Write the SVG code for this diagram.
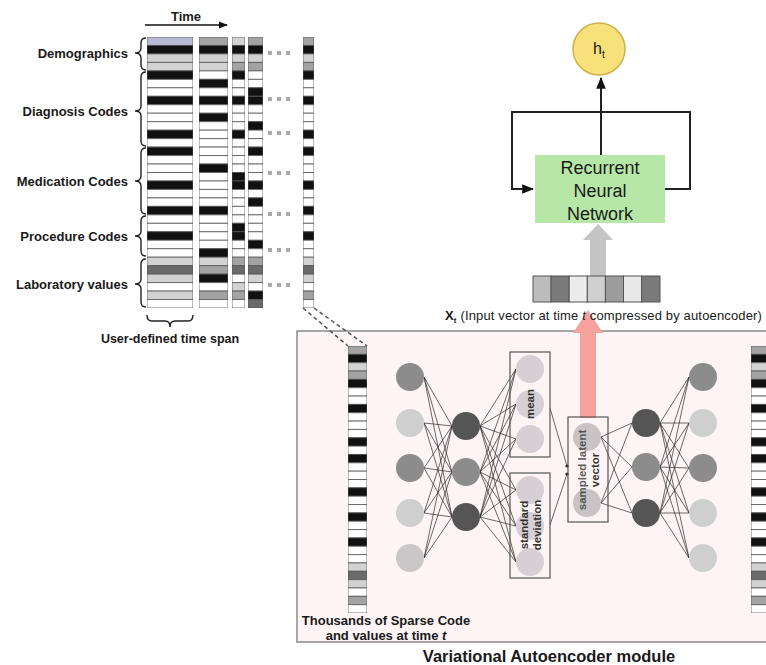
<svg xmlns="http://www.w3.org/2000/svg" xmlns:xlink="http://www.w3.org/1999/xlink" width="766" height="665" viewBox="0 0 766 665">
<style>
text{font-family:"Liberation Sans",Arial,sans-serif;fill:#1a1a1a}
.b{font-weight:bold}
.lab{font-size:13px;font-weight:bold;text-anchor:end}
.k{fill:#111}.w{fill:#fff}.l{fill:#d2d2d2}.m{fill:#a3a3a3}.d{fill:#6a6a6a}.p{fill:#b9b9d6}
symbol rect{stroke:#555;stroke-width:0.8;vector-effect:non-scaling-stroke}
.brace{fill:none;stroke:#222;stroke-width:1.4}
.nn{fill:none;stroke:#2a2a2a;stroke-width:0.7}
.box{fill:none;stroke:#555;stroke-width:1.2}
.dots{fill:#aaa}
.rot{font-size:11.5px;font-weight:bold;text-anchor:middle;fill:#333}
</style>
<defs>
<marker id="ah" viewBox="0 0 10 10" refX="9" refY="5" markerWidth="6" markerHeight="6" orient="auto"><path d="M0 1L10 5L0 9z" fill="#111"/></marker>
<symbol id="c1" viewBox="0 0 10 320" preserveAspectRatio="none">
<rect class="p" y="0" width="10" height="10"/><rect class="k" y="10" width="10" height="10"/><rect class="l" y="20" width="10" height="10"/><rect class="l" y="30" width="10" height="10"/><rect class="k" y="40" width="10" height="10"/><rect class="w" y="50" width="10" height="10"/><rect class="w" y="60" width="10" height="10"/><rect class="k" y="70" width="10" height="10"/><rect class="w" y="80" width="10" height="10"/><rect class="w" y="90" width="10" height="10"/><rect class="w" y="100" width="10" height="10"/><rect class="k" y="110" width="10" height="10"/><rect class="w" y="120" width="10" height="10"/><rect class="k" y="130" width="10" height="10"/><rect class="w" y="140" width="10" height="10"/><rect class="w" y="150" width="10" height="10"/><rect class="w" y="160" width="10" height="10"/><rect class="k" y="170" width="10" height="10"/><rect class="w" y="180" width="10" height="10"/><rect class="w" y="190" width="10" height="10"/><rect class="k" y="200" width="10" height="10"/><rect class="w" y="210" width="10" height="10"/><rect class="w" y="220" width="10" height="10"/><rect class="k" y="230" width="10" height="10"/><rect class="w" y="240" width="10" height="10"/><rect class="w" y="250" width="10" height="10"/><rect class="l" y="260" width="10" height="10"/><rect class="d" y="270" width="10" height="10"/><rect class="l" y="280" width="10" height="10"/><rect class="w" y="290" width="10" height="10"/><rect class="l" y="300" width="10" height="10"/><rect class="w" y="310" width="10" height="10"/>
</symbol>
<symbol id="c5" viewBox="0 0 10 320" preserveAspectRatio="none">
<rect class="m" y="0" width="10" height="10"/><rect class="k" y="10" width="10" height="10"/><rect class="l" y="20" width="10" height="10"/><rect class="m" y="30" width="10" height="10"/><rect class="k" y="40" width="10" height="10"/><rect class="w" y="50" width="10" height="10"/><rect class="w" y="60" width="10" height="10"/><rect class="k" y="70" width="10" height="10"/><rect class="w" y="80" width="10" height="10"/><rect class="w" y="90" width="10" height="10"/><rect class="w" y="100" width="10" height="10"/><rect class="k" y="110" width="10" height="10"/><rect class="w" y="120" width="10" height="10"/><rect class="k" y="130" width="10" height="10"/><rect class="w" y="140" width="10" height="10"/><rect class="w" y="150" width="10" height="10"/><rect class="w" y="160" width="10" height="10"/><rect class="k" y="170" width="10" height="10"/><rect class="w" y="180" width="10" height="10"/><rect class="w" y="190" width="10" height="10"/><rect class="k" y="200" width="10" height="10"/><rect class="w" y="210" width="10" height="10"/><rect class="w" y="220" width="10" height="10"/><rect class="k" y="230" width="10" height="10"/><rect class="w" y="240" width="10" height="10"/><rect class="w" y="250" width="10" height="10"/><rect class="l" y="260" width="10" height="10"/><rect class="d" y="270" width="10" height="10"/><rect class="l" y="280" width="10" height="10"/><rect class="w" y="290" width="10" height="10"/><rect class="m" y="300" width="10" height="10"/><rect class="w" y="310" width="10" height="10"/>
</symbol>
<symbol id="c2" viewBox="0 0 10 320" preserveAspectRatio="none">
<rect class="m" y="0" width="10" height="10"/><rect class="k" y="10" width="10" height="10"/><rect class="l" y="20" width="10" height="10"/><rect class="l" y="30" width="10" height="10"/><rect class="w" y="40" width="10" height="10"/><rect class="k" y="50" width="10" height="10"/><rect class="w" y="60" width="10" height="10"/><rect class="k" y="70" width="10" height="10"/><rect class="w" y="80" width="10" height="10"/><rect class="k" y="90" width="10" height="10"/><rect class="w" y="100" width="10" height="10"/><rect class="w" y="110" width="10" height="10"/><rect class="w" y="120" width="10" height="10"/><rect class="w" y="130" width="10" height="10"/><rect class="w" y="140" width="10" height="10"/><rect class="k" y="150" width="10" height="10"/><rect class="w" y="160" width="10" height="10"/><rect class="w" y="170" width="10" height="10"/><rect class="w" y="180" width="10" height="10"/><rect class="w" y="190" width="10" height="10"/><rect class="k" y="200" width="10" height="10"/><rect class="w" y="210" width="10" height="10"/><rect class="w" y="220" width="10" height="10"/><rect class="w" y="230" width="10" height="10"/><rect class="w" y="240" width="10" height="10"/><rect class="k" y="250" width="10" height="10"/><rect class="l" y="260" width="10" height="10"/><rect class="m" y="270" width="10" height="10"/><rect class="k" y="280" width="10" height="10"/><rect class="w" y="290" width="10" height="10"/><rect class="m" y="300" width="10" height="10"/><rect class="w" y="310" width="10" height="10"/>
</symbol>
<symbol id="c3" viewBox="0 0 10 320" preserveAspectRatio="none">
<rect class="l" y="0" width="10" height="10"/><rect class="k" y="10" width="10" height="10"/><rect class="l" y="20" width="10" height="10"/><rect class="m" y="30" width="10" height="10"/><rect class="k" y="40" width="10" height="10"/><rect class="w" y="50" width="10" height="10"/><rect class="w" y="60" width="10" height="10"/><rect class="k" y="70" width="10" height="10"/><rect class="w" y="80" width="10" height="10"/><rect class="w" y="90" width="10" height="10"/><rect class="w" y="100" width="10" height="10"/><rect class="k" y="110" width="10" height="10"/><rect class="w" y="120" width="10" height="10"/><rect class="w" y="130" width="10" height="10"/><rect class="w" y="140" width="10" height="10"/><rect class="w" y="150" width="10" height="10"/><rect class="k" y="160" width="10" height="10"/><rect class="k" y="170" width="10" height="10"/><rect class="w" y="180" width="10" height="10"/><rect class="w" y="190" width="10" height="10"/><rect class="w" y="200" width="10" height="10"/><rect class="w" y="210" width="10" height="10"/><rect class="k" y="220" width="10" height="10"/><rect class="k" y="230" width="10" height="10"/><rect class="w" y="240" width="10" height="10"/><rect class="w" y="250" width="10" height="10"/><rect class="m" y="260" width="10" height="10"/><rect class="d" y="270" width="10" height="10"/><rect class="w" y="280" width="10" height="10"/><rect class="l" y="290" width="10" height="10"/><rect class="m" y="300" width="10" height="10"/><rect class="w" y="310" width="10" height="10"/>
</symbol>
<symbol id="c4" viewBox="0 0 10 320" preserveAspectRatio="none">
<rect class="m" y="0" width="10" height="10"/><rect class="k" y="10" width="10" height="10"/><rect class="l" y="20" width="10" height="10"/><rect class="m" y="30" width="10" height="10"/><rect class="w" y="40" width="10" height="10"/><rect class="w" y="50" width="10" height="10"/><rect class="k" y="60" width="10" height="10"/><rect class="k" y="70" width="10" height="10"/><rect class="w" y="80" width="10" height="10"/><rect class="w" y="90" width="10" height="10"/><rect class="k" y="100" width="10" height="10"/><rect class="w" y="110" width="10" height="10"/><rect class="w" y="120" width="10" height="10"/><rect class="k" y="130" width="10" height="10"/><rect class="w" y="140" width="10" height="10"/><rect class="w" y="150" width="10" height="10"/><rect class="w" y="160" width="10" height="10"/><rect class="k" y="170" width="10" height="10"/><rect class="w" y="180" width="10" height="10"/><rect class="k" y="190" width="10" height="10"/><rect class="w" y="200" width="10" height="10"/><rect class="w" y="210" width="10" height="10"/><rect class="w" y="220" width="10" height="10"/><rect class="w" y="230" width="10" height="10"/><rect class="k" y="240" width="10" height="10"/><rect class="w" y="250" width="10" height="10"/><rect class="m" y="260" width="10" height="10"/><rect class="d" y="270" width="10" height="10"/><rect class="l" y="280" width="10" height="10"/><rect class="w" y="290" width="10" height="10"/><rect class="k" y="300" width="10" height="10"/><rect class="d" y="310" width="10" height="10"/>
</symbol>
</defs>
<rect width="766" height="665" fill="#fff"/>

<!-- Left: data matrix -->
<g id="time-axis">
<text x="186" y="21" class="b" font-size="13" text-anchor="middle">Time</text>
<line x1="145" y1="25" x2="227" y2="25" stroke="#111" stroke-width="1.5" marker-end="url(#ah)"/>
</g>
<g id="matrix">
<use xlink:href="#c1" x="147" y="37" width="46" height="271"/>
<use xlink:href="#c2" x="199" y="37" width="29" height="271"/>
<use xlink:href="#c3" x="232" y="37" width="13" height="271"/>
<use xlink:href="#c4" x="248" y="37" width="15" height="271"/>
<use xlink:href="#c5" x="303" y="37" width="11" height="271"/>
<g class="dots">
<rect x="268" y="51" width="4" height="4"/><rect x="277" y="51" width="4" height="4"/><rect x="286" y="51" width="4" height="4"/>
<rect x="268" y="97" width="4" height="4"/><rect x="277" y="97" width="4" height="4"/><rect x="286" y="97" width="4" height="4"/>
<rect x="268" y="131" width="4" height="4"/><rect x="277" y="131" width="4" height="4"/><rect x="286" y="131" width="4" height="4"/>
<rect x="268" y="171" width="4" height="4"/><rect x="277" y="171" width="4" height="4"/><rect x="286" y="171" width="4" height="4"/>
<rect x="268" y="212" width="4" height="4"/><rect x="277" y="212" width="4" height="4"/><rect x="286" y="212" width="4" height="4"/>
<rect x="268" y="248" width="4" height="4"/><rect x="277" y="248" width="4" height="4"/><rect x="286" y="248" width="4" height="4"/>
<rect x="268" y="283" width="4" height="4"/><rect x="277" y="283" width="4" height="4"/><rect x="286" y="283" width="4" height="4"/>
</g>
</g>
<g id="labels">
<text x="128" y="58" class="lab">Demographics</text>
<path class="brace" d="M146 38Q141 38 141 43L141 48Q141 53 135 53Q141 53 141 58L141 65Q141 70 146 70"/>
<text x="128" y="116" class="lab">Diagnosis Codes</text>
<path class="brace" d="M146 72Q141 72 141 77L141 106Q141 111 135 111Q141 111 141 116L141 141Q141 146 146 146"/>
<text x="128" y="186" class="lab">Medication Codes</text>
<path class="brace" d="M146 148Q141 148 141 153L141 176Q141 181 135 181Q141 181 141 186L141 209Q141 214 146 214"/>
<text x="128" y="241" class="lab">Procedure Codes</text>
<path class="brace" d="M146 216Q141 216 141 221L141 231Q141 236 135 236Q141 236 141 241L141 251Q141 256 146 256"/>
<text x="128" y="289" class="lab">Laboratory values</text>
<path class="brace" d="M146 259Q141 259 141 264L141 279Q141 284 135 284Q141 284 141 289L141 302Q141 307 146 307"/>
<path class="brace" d="M147 315Q147 321 152 321L165 321Q170 321 170 327Q170 321 175 321L188 321Q193 321 193 315"/>
<text x="170" y="343" class="b" font-size="12.5" text-anchor="middle">User-defined time span</text>
</g>

<!-- VAE module -->
<g id="vae-module">
<rect x="297" y="331" width="480" height="311" fill="#fdf4f6" stroke="#8a8a8a" stroke-width="1.5"/>
<text x="549" y="662" class="b" font-size="16.5" text-anchor="middle">Variational Autoencoder module</text>
</g>
<g id="vae-input">
<use xlink:href="#c5" x="348" y="346" width="19" height="267"/>
<text x="386" y="625" class="b" font-size="13" text-anchor="middle">Thousands of Sparse Code</text>
<text x="386" y="640" class="b" font-size="13" text-anchor="middle">and values at time <tspan font-style="italic">t</tspan></text>
</g>
<g id="vae-output">
<use xlink:href="#c5" x="751" y="346" width="19" height="267"/>
</g>

<g id="connectors">
<path class="nn" d="M424 377L452 426M424 377L452 472M424 377L452 517M424 423L452 426M424 423L452 472M424 423L452 517M424 468L452 426M424 468L452 472M424 468L452 517M424 513L452 426M424 513L452 472M424 513L452 517M424 558L452 426M424 558L452 472M424 558L452 517"/>
<path class="nn" d="M480 426L516 369M480 426L516 404M480 426L516 439M480 426L516 490M480 426L516 526M480 426L516 562M480 472L516 369M480 472L516 404M480 472L516 439M480 472L516 490M480 472L516 526M480 472L516 562M480 517L516 369M480 517L516 404M480 517L516 439M480 517L516 490M480 517L516 526M480 517L516 562"/>
<path class="nn" d="M550 408L567 466M550 525L567 474"/>
<circle cx="567" cy="466" r="1.6" fill="#222"/><circle cx="567" cy="474" r="1.6" fill="#222"/>
<path class="nn" d="M601 437L632 423M601 437L632 467M601 437L632 513M601 503L632 423M601 503L632 467M601 503L632 513"/>
<path class="nn" d="M660 423L689 377M660 423L689 423M660 423L689 468M660 423L689 513M660 423L689 558M660 467L689 377M660 467L689 423M660 467L689 468M660 467L689 513M660 467L689 558M660 513L689 377M660 513L689 423M660 513L689 468M660 513L689 513M660 513L689 558"/>
<path d="M303 308L348 346M314 308L367 346" fill="none" stroke="#555" stroke-width="1.5" stroke-dasharray="4 3"/>
<polygon points="580,418 596,418 596,333 603,333 588,310 573,333 580,333" fill="#f6a39d"/>
<polygon points="590,276 606,276 606,240 613,240 598,224 583,240 590,240" fill="#c4c4c4"/>
<path d="M665 189L690 189L690 112L512 112L512 189L533 189" fill="none" stroke="#222" stroke-width="2" marker-end="url(#ah)"/>
<line x1="601" y1="155" x2="601" y2="78" stroke="#222" stroke-width="2" marker-end="url(#ah)"/>
</g>

<g id="encoder-input-layer">
<circle cx="410" cy="377" r="14" fill="#8c8c8c"/>
<circle cx="410" cy="423" r="14" fill="#cfcfcf"/>
<circle cx="410" cy="468" r="14" fill="#8c8c8c"/>
<circle cx="410" cy="513" r="14" fill="#cfcfcf"/>
<circle cx="410" cy="558" r="14" fill="#cbc7c9"/>
</g>
<g id="encoder-hidden-layer">
<circle cx="466" cy="426" r="14" fill="#555"/>
<circle cx="466" cy="472" r="14" fill="#8c8c8c"/>
<circle cx="466" cy="517" r="14" fill="#555"/>
</g>
<g id="mean">
<circle cx="530" cy="369" r="14" fill="#d6cfd3"/>
<circle cx="530" cy="404" r="14" fill="#d6cfd3"/>
<circle cx="530" cy="439" r="14" fill="#d6cfd3"/>
<rect class="box" x="510" y="352" width="40" height="105"/>
<text class="rot" transform="translate(534 404) rotate(-90)">mean</text>
</g>
<g id="standard-deviation">
<circle cx="530" cy="490" r="14" fill="#d6cfd3"/>
<circle cx="530" cy="526" r="14" fill="#d6cfd3"/>
<circle cx="530" cy="562" r="14" fill="#d6cfd3"/>
<rect class="box" x="510" y="473" width="40" height="105"/>
<text class="rot" transform="translate(528 525) rotate(-90)">standard</text>
<text class="rot" transform="translate(541 525) rotate(-90)">deviation</text>
</g>
<g id="sampled-latent-vector">
<circle cx="587" cy="437" r="14" fill="#c9c3c6"/>
<circle cx="587" cy="503" r="14" fill="#c9c3c6"/>
<rect class="box" x="568" y="417" width="40" height="105"/>
<text class="rot" transform="translate(586 470) rotate(-90)" fill-opacity="0.8">sampled latent</text>
<text class="rot" transform="translate(599 470) rotate(-90)">vector</text>
</g>
<g id="decoder-hidden-layer">
<circle cx="646" cy="423" r="14" fill="#555"/>
<circle cx="646" cy="467" r="14" fill="#8c8c8c"/>
<circle cx="646" cy="513" r="14" fill="#555"/>
</g>
<g id="decoder-output-layer">
<circle cx="703" cy="377" r="14" fill="#8c8c8c"/>
<circle cx="703" cy="423" r="14" fill="#cfcfcf"/>
<circle cx="703" cy="468" r="14" fill="#8c8c8c"/>
<circle cx="703" cy="513" r="14" fill="#cfcfcf"/>
<circle cx="703" cy="558" r="14" fill="#cfcfcf"/>
</g>

<!-- RNN part -->
<g id="input-vector">
<rect x="533" y="276" width="18.1" height="26" fill="#bcbcbc" stroke="#555"/>
<rect x="551.1" y="276" width="18.1" height="26" fill="#7a7a7a" stroke="#555"/>
<rect x="569.2" y="276" width="18.1" height="26" fill="#ececec" stroke="#555"/>
<rect x="587.3" y="276" width="18.1" height="26" fill="#d0d0d0" stroke="#555"/>
<rect x="605.4" y="276" width="18.1" height="26" fill="#9c9c9c" stroke="#555"/>
<rect x="623.5" y="276" width="18.1" height="26" fill="#e8e8e8" stroke="#555"/>
<rect x="641.6" y="276" width="18.4" height="26" fill="#7a7a7a" stroke="#555"/>
<text x="445" y="320" font-size="13" letter-spacing="0.15"><tspan class="b">X</tspan><tspan class="b" font-size="8" dy="3">t</tspan><tspan dy="-3"> (Input vector at time </tspan><tspan font-style="italic">t</tspan><tspan> compressed by autoencoder)</tspan></text>
</g>
<g id="rnn">
<rect x="535" y="155" width="130" height="68" fill="#b7e7a7"/>
<text x="600" y="174" font-size="18" text-anchor="middle">Recurrent</text>
<text x="600" y="197" font-size="18" text-anchor="middle">Neural</text>
<text x="600" y="220" font-size="18" text-anchor="middle">Network</text>
</g>
<g id="ht">
<circle cx="599" cy="49" r="26" fill="#f8e07a" stroke="#cfb24a" stroke-width="1.5"/>
<text x="593" y="54" font-size="16">h<tspan font-size="10" dy="4">t</tspan></text>
</g>
</svg>
